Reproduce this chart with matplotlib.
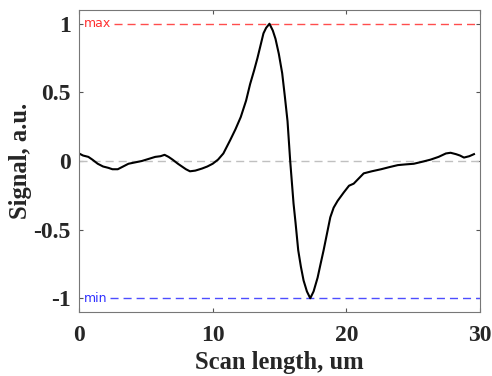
import matplotlib
matplotlib.use("Agg")
import matplotlib.pyplot as plt

# scan profile
scan_x = [0, 0.3, 0.7, 1.0, 1.4, 1.8, 2.2, 2.5, 2.9, 3.3, 3.7, 4.2, 4.7, 5.2, 5.7,
          6.1, 6.4, 6.7, 7.0, 7.4, 7.7, 8.0, 8.3, 8.7, 9.2, 9.6, 10.0, 10.4, 10.8,
          11.3, 11.7, 12.1, 12.5, 12.8, 13.1, 13.35, 13.6, 13.8, 14.0, 14.25, 14.5,
          14.7, 14.95, 15.2, 15.4, 15.6, 15.8, 16.05, 16.2, 16.4, 16.6, 16.8, 17.05,
          17.3, 17.55, 17.85, 18.05, 18.3, 18.55, 18.8, 19.05, 19.35, 19.8, 20.2,
          20.55, 20.9, 21.3, 21.9, 22.6, 23.2, 23.85, 24.4, 25.05, 25.7, 26.3, 26.9,
          27.45, 27.8, 28.2, 28.5, 28.8, 29.2, 29.55]
signal = [0.055, 0.04, 0.03, 0.01, -0.02, -0.04, -0.05, -0.06, -0.06, -0.04, -0.02,
          -0.01, 0.0, 0.015, 0.03, 0.035, 0.045, 0.03, 0.01, -0.02, -0.04, -0.06,
          -0.075, -0.07, -0.055, -0.04, -0.02, 0.01, 0.055, 0.15, 0.23, 0.32, 0.44,
          0.56, 0.66, 0.75, 0.85, 0.93, 0.97, 1.0, 0.95, 0.89, 0.78, 0.64, 0.47, 0.29,
          0.0, -0.31, -0.45, -0.65, -0.77, -0.87, -0.95, -1.0, -0.95, -0.85, -0.76,
          -0.65, -0.53, -0.41, -0.34, -0.29, -0.23, -0.18, -0.165, -0.13, -0.09,
          -0.075, -0.06, -0.045, -0.03, -0.025, -0.02, -0.005, 0.01, 0.03, 0.055,
          0.06, 0.05, 0.04, 0.025, 0.035, 0.05]

x_ticks = [0, 10, 20, 30]
y_ticks = [-1, -0.5, 0, 0.5, 1]
y_ticklabels = ["-1", "-0.5", "0", "0.5", "1"]
level_max = 1
level_min = -1

fig = plt.figure(figsize=(4.92, 3.76), dpi=100)
ax = fig.add_axes([0.1606, 0.1702, 0.815, 0.8032])

# reference levels
ax.axhline(0, color="#c0c0c0", lw=1.0, dashes=(5.8, 3.6))
ax.hlines(level_max, 2.65, 30, color="#ff4d4d", lw=1.0, linestyles=(0, (5.8, 3.6)))
ax.hlines(level_min, 2.3, 30, color="#4d4dff", lw=1.0, linestyles=(0, (5.8, 3.6)))
ax.text(0.35, level_max, "max", color="#ff3030", fontsize=9,
        family="DejaVu Sans", va="center", ha="left")
ax.text(0.35, level_min, "min", color="#3030ff", fontsize=9,
        family="DejaVu Sans", va="center", ha="left")

ax.plot(scan_x, signal, color="black", lw=1.5)

ax.set_xlim(0, 30)
ax.set_ylim(-1.1, 1.1)
ax.set_xticks(x_ticks)
ax.set_yticks(y_ticks)
ax.set_yticklabels(y_ticklabels)

ax.tick_params(direction="in", length=3, width=0.8, top=True, right=True,
               colors="#555555", labelcolor="#262626")
ax.tick_params(axis="x", pad=9)
ax.tick_params(axis="y", pad=6)
for lab in ax.get_xticklabels() + ax.get_yticklabels():
    lab.set_family("Liberation Serif")
    lab.set_fontweight("bold")
    lab.set_fontsize(17)
for s in ax.spines.values():
    s.set_color("#777777")
    s.set_linewidth(0.8)

ax.set_xlabel("Scan length, um", family="Liberation Serif", fontweight="bold",
              fontsize=17.7, color="#262626")
ax.set_ylabel("Signal, a.u.", family="Liberation Serif", fontweight="bold",
              fontsize=17.7, color="#262626")
ax.yaxis.set_label_coords(-0.117, 0.5)
ax.xaxis.set_label_coords(0.5, -0.13)

plt.savefig("out.png", dpi=100)
